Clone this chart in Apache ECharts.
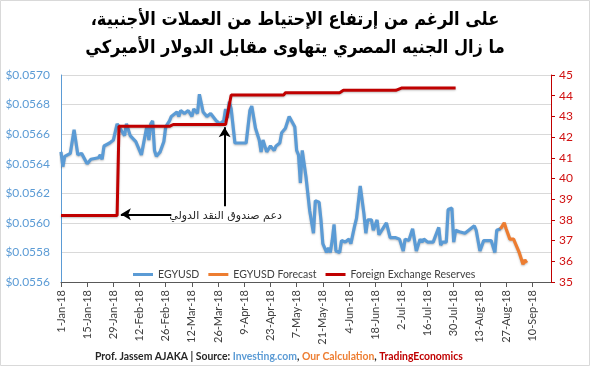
<!DOCTYPE html>
<html><head><meta charset="utf-8">
<script src="https://cdn.jsdelivr.net/npm/echarts@6/dist/echarts.min.js"></script>
<style>html,body{margin:0;padding:0;background:#fff}#c{width:590px;height:366px}</style>
</head><body><div id="c"></div>
<script>
const YEAR = 2018;
const titleLines = ['على الرغم من إرتفاع الإحتياط من العملات الأجنبية،\u200F', 'ما زال الجنيه المصري يتهاوى مقابل الدولار الأميركي'];
const seriesNames = ['EGYUSD', 'EGYUSD Forecast', 'Foreign Exchange Reserves'];

// EGYUSD, dates MM-DD of 2018
const egyDates = ['01-01','01-02','01-03','01-06','01-08','01-10','01-12','01-15','01-17','01-21','01-22','01-23','01-24','01-27','01-29','01-31',
'02-01','02-04','02-05','02-07','02-10','02-13','02-14','02-16','02-17','02-18','02-19','02-20','02-21','02-23','02-25','02-26','02-28',
'03-01','03-04','03-05','03-06','03-08','03-10','03-12','03-13','03-15','03-16','03-18','03-20','03-22','03-23','03-25','03-27','03-29','03-30','03-31',
'04-01','04-02','04-04','04-05','04-10','04-12','04-13','04-15','04-17','04-18','04-19','04-21','04-23','04-25','04-26','04-28','04-29',
'05-01','05-02','05-03','05-04','05-06','05-07','05-08','05-09','05-10','05-11','05-12','05-14','05-15','05-16','05-17','05-19','05-20','05-21','05-23','05-24','05-25','05-26','05-27','05-28','05-30','05-31',
'06-02','06-04','06-05','06-07','06-08','06-10','06-12','06-13','06-14','06-16','06-17','06-19','06-20','06-22','06-24','06-26','06-29',
'07-01','07-03','07-04','07-06','07-08','07-10','07-12','07-13','07-14','07-16','07-17','07-19','07-20','07-22','07-23','07-24','07-26','07-27','07-29','07-30','07-31',
'08-02','08-03','08-05','08-07','08-10','08-11','08-13','08-15','08-17','08-18','08-19','08-21','08-22','08-24'];
const egyValues = [0.05648,0.05638,0.05645,0.05647,0.05663,0.05646,0.05647,0.05640,0.05643,0.05644,0.05646,0.05643,0.05652,0.05654,0.05656,0.05667,
0.05667,0.05659,0.05667,0.05659,0.05655,0.05646,0.05647,0.05666,0.05656,0.05667,0.05669,0.05649,0.05645,0.05648,0.05655,0.05665,0.05669,
0.05672,0.05675,0.05672,0.05676,0.05674,0.05676,0.05672,0.05677,0.05674,0.05687,0.05675,0.05672,0.05674,0.05674,0.05669,0.05667,0.05669,0.05677,0.05671,
0.05682,0.05677,0.05654,0.05654,0.05654,0.05676,0.05679,0.05664,0.05656,0.05648,0.05656,0.05648,0.05652,0.05649,0.05652,0.05654,0.05661,
0.05664,0.05665,0.05672,0.05673,0.05665,0.05649,0.05646,0.05627,0.05649,0.05650,0.05631,0.05608,0.05607,0.05593,0.05615,0.05614,0.05602,0.05586,0.05580,0.05583,0.05580,0.05588,0.05599,0.05581,0.05580,0.05588,
0.05587,0.05589,0.05586,0.05598,0.05603,0.05625,0.05606,0.05593,0.05602,0.05602,0.05595,0.05602,0.05592,0.05596,0.05600,0.05590,0.05590,
0.05589,0.05581,0.05589,0.05588,0.05596,0.05581,0.05589,0.05587,0.05589,0.05587,0.05588,0.05587,0.05588,0.05597,0.05585,0.05587,0.05587,0.05609,0.05610,0.05587,0.05595,
0.05594,0.05595,0.05593,0.05595,0.05598,0.05595,0.05581,0.05588,0.05588,0.05587,0.05588,0.05580,0.05595,0.05596];

// Forecast
const fcDates = ['08-24','08-26','08-27','08-29','08-31','09-01','09-03','09-04','09-05','09-06','09-07'];
const fcValues = [0.05596,0.05600,0.05596,0.05589,0.05589,0.05586,0.05580,0.05576,0.05572,0.05575,0.05573];

// Foreign exchange reserves (bn USD), monthly, held each business day of the month
const reserveMonths = [1,2,3,4,5,6,7];
const reserveValues = [38.21,42.52,42.61,44.03,44.14,44.26,44.37];

// Axes
const leftMin = 0.0556, leftMax = 0.0570, leftStep = 0.0002;
const rightMin = 35, rightMax = 45, rightStep = 1;
const xMaxDate = '09-20', xStepDays = 14;
const monthNames = ['Jan','Feb','Mar','Apr','May','Jun','Jul','Aug','Sep','Oct','Nov','Dec'];

// Annotation
const noteText = 'دعم صندوق النقد الدولي';
const noteAnchor = ['03-30', 38.17];
const arrowH = [['03-01', 38.27], ['02-02', 38.27]];
const arrowV = [['03-30', 38.66], ['03-30', 42.47]];

const DAY = 86400000, T0 = Date.UTC(YEAR, 0, 1);
function dayOf(md) { const [m, d] = md.split('-').map(Number); return (Date.UTC(YEAR, m - 1, d) - T0) / DAY; }
function fmtDay(v) { const dt = new Date(T0 + v * DAY); return dt.getUTCDate() + '-' + monthNames[dt.getUTCMonth()] + '-' + String(YEAR).slice(2); }

const egyData = egyDates.map((d, i) => [dayOf(d), egyValues[i]]);
const fcData = fcDates.map((d, i) => [dayOf(d), fcValues[i]]);
const resData = [];
reserveMonths.forEach((m, i) => {
  const n = new Date(Date.UTC(YEAR, m, 0)).getUTCDate();
  for (let d = 1; d <= n; d++) {
    const t = Date.UTC(YEAR, m - 1, d), wd = new Date(t).getUTCDay();
    if (wd === 0 || wd === 6) continue;
    resData.push([(t - T0) / DAY, reserveValues[i]]);
  }
});

const BLUE = '#5B9BD5', ORANGE = '#ED7D31', RED = '#C00000', TXT = '#404040';
const FONT = 'Lato';
const shadow = { shadowColor: 'rgba(0,0,0,0.25)', shadowBlur: 2, shadowOffsetY: 1 };

const chart = echarts.init(document.getElementById('c'), null, { renderer: 'canvas' });
chart.setOption({
  animation: false,
  backgroundColor: '#fff',
  title: [
    { text: titleLines.join('\n'), left: 'center', top: 1,
      textStyle: { fontFamily: '"DejaVu Sans Condensed", "DejaVu Sans"', fontWeight: 'bold', fontSize: 18, lineHeight: 28, color: '#000' } },
    { text: '{a|Prof. Jassem AJAKA | Source: }{b|Investing.com}{a|, }{c|Our Calculation}{a|, }{d|TradingEconomics}',
      left: 90, top: 347,
      textStyle: { rich: {
        a: { fontFamily: FONT, fontWeight: 'bold', fontSize: 10.4, color: '#262626' },
        b: { fontFamily: FONT, fontWeight: 'bold', fontSize: 10.4, color: BLUE },
        c: { fontFamily: FONT, fontWeight: 'bold', fontSize: 10.4, color: ORANGE },
        d: { fontFamily: FONT, fontWeight: 'bold', fontSize: 10.4, color: RED } } } }
  ],
  legend: {
    data: seriesNames, top: 264, left: 128, icon: 'rect', itemWidth: 20, itemHeight: 3, itemGap: 9,
    textStyle: { fontFamily: FONT, fontSize: 10.5, color: TXT }
  },
  graphic: [{ type: 'rect', shape: { x: 0.5, y: 0.5, width: 589, height: 365 }, style: { fill: 'none', stroke: '#D9D9D9', lineWidth: 1 }, silent: true }],
  grid: { left: 61, right: 39, top: 75, bottom: 84 },
  xAxis: {
    type: 'value', min: 0, max: dayOf(xMaxDate), interval: xStepDays,
    axisLine: { lineStyle: { color: '#595959', width: 1 } },
    axisTick: { show: true, length: 5, lineStyle: { color: '#595959' } },
    splitLine: { show: false },
    axisLabel: { rotate: 90, margin: 8, fontFamily: FONT, fontSize: 11, color: TXT, showMaxLabel: false, formatter: fmtDay }
  },
  yAxis: [
    { type: 'value', min: leftMin, max: leftMax, interval: leftStep,
      axisLine: { show: true, lineStyle: { color: BLUE } }, axisTick: { show: false },
      splitLine: { lineStyle: { color: '#D9D9D9' } },
      axisLabel: { fontFamily: FONT, fontSize: 12, color: BLUE, margin: 11, formatter: v => '$' + v.toFixed(4) } },
    { type: 'value', min: rightMin, max: rightMax, interval: rightStep, position: 'right',
      axisLine: { show: true, lineStyle: { color: RED } },
      axisTick: { show: true, length: 4, lineStyle: { color: RED } },
      splitLine: { show: false },
      axisLabel: { fontFamily: FONT, fontSize: 12, color: '#D01010', margin: 8 } }
  ],
  series: [
    { name: seriesNames[0], type: 'line', data: egyData, yAxisIndex: 0, showSymbol: false, symbol: 'none',
      lineStyle: Object.assign({ color: BLUE, width: 3.2 }, shadow), itemStyle: { color: BLUE }, z: 3 },
    { name: seriesNames[1], type: 'line', data: fcData, yAxisIndex: 0, showSymbol: false, symbol: 'none',
      lineStyle: Object.assign({ color: ORANGE, width: 3.2 }, shadow), itemStyle: { color: ORANGE }, z: 3 },
    { name: seriesNames[2], type: 'line', data: resData, yAxisIndex: 1, showSymbol: false, symbol: 'none',
      lineStyle: Object.assign({ color: RED, width: 3 }, shadow), itemStyle: { color: RED }, z: 4,
      markLine: {
        silent: true, symbol: ['none', 'arrow'], symbolSize: [9, 10], animation: false,
        lineStyle: { color: '#000', width: 2, type: 'solid' }, label: { show: false },
        data: [
          [{ coord: [dayOf(arrowH[0][0]), arrowH[0][1]] }, { coord: [dayOf(arrowH[1][0]), arrowH[1][1]] }],
          [{ coord: [dayOf(arrowV[0][0]) - 0.5, arrowV[0][1]] }, { coord: [dayOf(arrowV[1][0]) - 0.5, arrowV[1][1]] }]
        ]
      },
      markPoint: {
        silent: true, symbol: 'rect', symbolSize: 0, animation: false,
        label: { show: true, position: 'inside', formatter: noteText, fontFamily: 'DejaVu Sans', fontSize: 11, color: '#262626' },
        data: [{ coord: [dayOf(noteAnchor[0]), noteAnchor[1]] }]
      }
    }
  ]
});
</script></body></html>
